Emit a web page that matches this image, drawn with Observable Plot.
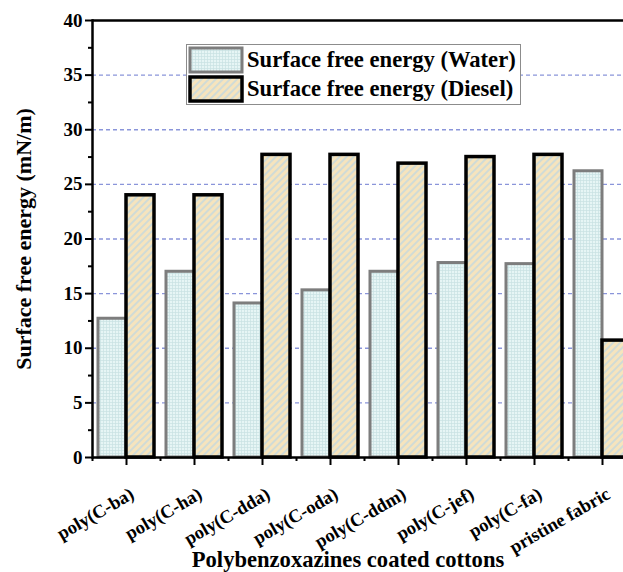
<!DOCTYPE html>
<html><head><meta charset="utf-8">
<script src="https://cdn.jsdelivr.net/npm/d3@7"></script>
<script src="https://cdn.jsdelivr.net/npm/@observablehq/plot@0.6"></script>
<style>
html,body{margin:0;padding:0;background:#fff;overflow:hidden;width:623px;height:572px;}
#wrap{position:relative;width:623px;height:572px;overflow:hidden;}
#chart svg{position:absolute;left:0;top:0;max-width:none !important;}
#legend{position:absolute;left:186px;top:44px;}
</style>
</head><body>
<div id="wrap"><div id="chart"></div><div id="legend"></div></div>
<script>
const categories = ["poly(C-ba)","poly(C-ha)","poly(C-dda)","poly(C-oda)","poly(C-ddm)","poly(C-jef)","poly(C-fa)","pristine fabric"];
const waterValues = [12.7, 17.0, 14.1, 15.3, 17.0, 17.8, 17.7, 26.2];
const dieselValues = [24.0, 24.0, 27.7, 27.7, 26.9, 27.5, 27.7, 10.7];
const seriesNames = ["Surface free energy (Water)", "Surface free energy (Diesel)"];
const yMajorTicks = [0, 5, 10, 15, 20, 25, 30, 35, 40];
const yMinorTicks = [2.5, 7.5, 12.5, 17.5, 22.5, 27.5, 32.5, 37.5];
const gridValues = [5, 10, 15, 20, 25, 30, 35];
const xTitle = "Polybenzoxazines coated cottons";
const yTitle = "Surface free energy (mN/m)";

const FONT = '"Liberation Serif","Times New Roman",serif';
const water = categories.map((c, i) => ({cat: c, v: waterValues[i]}));
const diesel = categories.map((c, i) => ({cat: c, v: dieselValues[i]}));

const patternDefs = `
<pattern id="pw" patternUnits="userSpaceOnUse" width="3" height="3">
  <rect width="3" height="3" fill="#e6f5f5"/>
  <path d="M0 0.5H3M0.5 0V3" stroke="#c9e1e2" stroke-width="0.7"/>
</pattern>
<pattern id="pd" patternUnits="userSpaceOnUse" width="5" height="5" patternTransform="rotate(45)">
  <rect width="5" height="5" fill="#f6e4bd"/>
  <line x1="1" y1="0" x2="1" y2="5" stroke="#bcd7e4" stroke-width="1.3"/>
</pattern>`;

const chart = Plot.plot({
  width: 640,
  height: 572,
  marginLeft: 92,
  marginRight: 4,
  marginTop: 20,
  marginBottom: 115,
  style: {fontFamily: FONT, fontWeight: "bold", color: "#000", background: "#fff", overflow: "visible", maxWidth: "none"},
  x: {domain: categories, paddingInner: 40/68, paddingOuter: 20/68, range: [92, 636]},
  y: {domain: [0, 40], range: [457, 20]},
  marks: [
    Plot.ruleY(gridValues, {stroke: "#8a95da", strokeWidth: 1.3, strokeDasharray: "4,3"}),
    Plot.barY(water, {x: "cat", y: "v", dx: -14, fill: "url(#pw)", stroke: "#7d7d7d", strokeWidth: 3}),
    Plot.barY(diesel, {x: "cat", y: "v", dx: 14, fill: "url(#pd)", stroke: "#000", strokeWidth: 3.5}),
    Plot.ruleY([0], {strokeWidth: 2.5}),
    Plot.ruleY([40], {strokeWidth: 2.5}),
    Plot.frame({anchor: "left", strokeWidth: 2.5}),
    Plot.axisY({ticks: yMajorTicks, tickSize: 7, tickPadding: 3, fontSize: 19, fontWeight: "bold", strokeWidth: 2, label: null}),
    Plot.axisY({ticks: yMinorTicks, tickSize: 4, text: null, strokeWidth: 2, label: null}),
    Plot.axisX({tickSize: 8, text: null, strokeWidth: 2, label: null}),
    Plot.axisX({tickSize: 4, text: null, dx: -34, strokeWidth: 2, label: null}),
    Plot.text(categories, {x: d => d, frameAnchor: "bottom", rotate: -30, textAnchor: "end", lineAnchor: "middle", dx: 6, dy: 35, fontSize: 18.5, fontWeight: "bold"}),
    Plot.text([xTitle], {text: d => d, frameAnchor: "bottom", textAnchor: "middle", lineAnchor: "middle", dx: -16.5, dy: 102, fontSize: 22.6, fontWeight: "bold"}),
    Plot.text([yTitle], {text: d => d, frameAnchor: "left", rotate: -90, textAnchor: "middle", lineAnchor: "middle", dx: -69, fontSize: 22, fontWeight: "bold"})
  ]
});
d3.select(chart).insert("defs", ":first-child").html(patternDefs);
document.getElementById("chart").appendChild(chart);

// Legend
const lg = d3.select("#legend").append("svg").attr("width", 336).attr("height", 62)
  .style("font-family", FONT).style("font-weight", "bold");
lg.append("defs").html(patternDefs.replace(/id="pw"/, 'id="lpw"').replace(/id="pd"/, 'id="lpd"'));
lg.append("rect").attr("x", 0.5).attr("y", 0.5).attr("width", 334).attr("height", 60)
  .attr("fill", "#fff").attr("stroke", "#8c8c8c").attr("stroke-width", 1);
const legendStyles = [
  {fill: "url(#lpw)", stroke: "#7d7d7d", sw: 3},
  {fill: "url(#lpd)", stroke: "#000", sw: 3.5}
];
seriesNames.forEach((name, i) => {
  const y0 = 4 + i * 29;
  lg.append("rect").attr("x", 4).attr("y", y0).attr("width", 52).attr("height", 24)
    .attr("fill", legendStyles[i].fill).attr("stroke", legendStyles[i].stroke).attr("stroke-width", legendStyles[i].sw);
  lg.append("text").attr("x", 61).attr("y", y0 + 19).attr("font-size", 22.6).attr("fill", "#000").text(name);
});
</script>
</body></html>
